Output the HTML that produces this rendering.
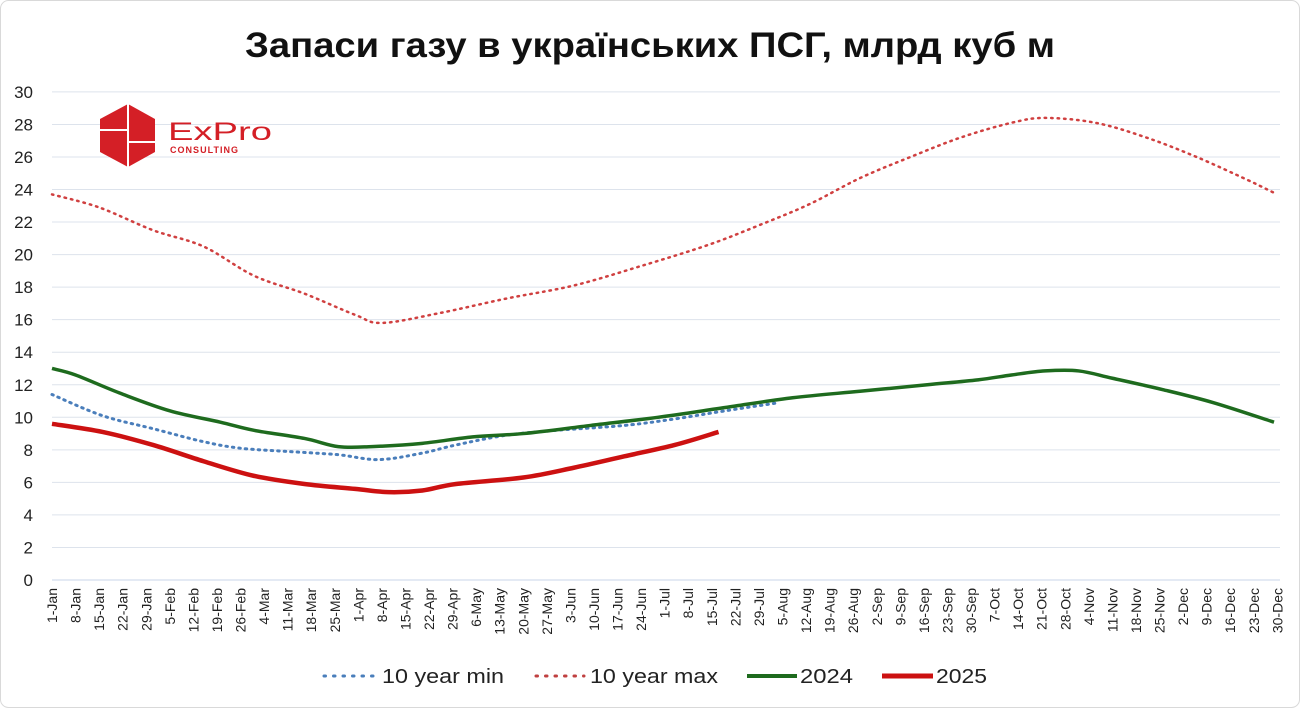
<!DOCTYPE html>
<html><head><meta charset="utf-8">
<style>
html,body{margin:0;padding:0;background:#fff;}
body{width:1300px;height:708px;overflow:hidden;font-family:"Liberation Sans","DejaVu Sans",sans-serif;}
</style></head>
<body>
<svg id="c" width="1300" height="708" xmlns="http://www.w3.org/2000/svg" font-family="'Liberation Sans','DejaVu Sans',sans-serif">
<rect x="0.5" y="0.5" width="1299" height="707" rx="8" fill="#fff" stroke="#d9d9d9"/>
<text x="650" y="57" text-anchor="middle" font-size="35" font-weight="bold" fill="#111" textLength="810" lengthAdjust="spacingAndGlyphs">Запаси газу в українських ПСГ, млрд куб м</text>
<g id="grid"></g>
<g id="series"></g>
<g>
<polygon points="128,104 155,119 155,152 128,167 100,152 100,119" fill="#d41f26"/>
<line x1="128" y1="104" x2="128" y2="167" stroke="#fff" stroke-width="2"/>
<line x1="100" y1="130" x2="128" y2="130" stroke="#fff" stroke-width="2"/>
<line x1="128" y1="142" x2="155" y2="142" stroke="#fff" stroke-width="2"/>
<text x="168" y="140" font-size="25" fill="#d41f26" textLength="104" lengthAdjust="spacingAndGlyphs">ExPro</text>
<text x="170" y="153" font-size="9" fill="#d41f26" font-weight="bold" textLength="68">CONSULTING</text>
</g>
<g font-size="20" fill="#222">
<line x1="324" y1="676" x2="374" y2="676" stroke="#4a7ebb" stroke-width="3" stroke-dasharray="1.5,8" stroke-linecap="round"/>
<text x="382" y="683" textLength="122" lengthAdjust="spacingAndGlyphs">10 year min</text>
<line x1="536" y1="676" x2="584" y2="676" stroke="#c04040" stroke-width="3" stroke-dasharray="1.5,8" stroke-linecap="round"/>
<text x="590" y="683" textLength="128" lengthAdjust="spacingAndGlyphs">10 year max</text>
<line x1="747" y1="676" x2="797" y2="676" stroke="#1e6b1e" stroke-width="4"/>
<text x="800" y="683" textLength="53" lengthAdjust="spacingAndGlyphs">2024</text>
<line x1="882" y1="676" x2="933" y2="676" stroke="#cc1111" stroke-width="5"/>
<text x="936" y="683" textLength="51" lengthAdjust="spacingAndGlyphs">2025</text>
</g>
</svg>
<script>
const NS="http://www.w3.org/2000/svg";
const X=d=>52+d*(1222/363), Y=v=>580-v*16.27;
const g=document.getElementById('grid'), s=document.getElementById('series');
function el(p,t,a,txt){const e=document.createElementNS(NS,t);for(const k in a)e.setAttribute(k,a[k]);if(txt!=null)e.textContent=txt;p.appendChild(e);return e;}
for(let v=0;v<=30;v+=2){const y=Y(v);
 el(g,'line',{x1:52,x2:1280,y1:y,y2:y,stroke:v==0?'#c8d4e8':'#dde3ec','stroke-width':1});
 el(g,'text',{x:33,y:y+6,'text-anchor':'end','font-size':17,fill:'#222'},String(v));}
const mon=['Jan','Feb','Mar','Apr','May','Jun','Jul','Aug','Sep','Oct','Nov','Dec'];
for(let w=0;w<=52;w++){const d=new Date(Date.UTC(2024,0,1+w*7));
 const x=X(w*7);const lab=d.getUTCDate()+'-'+mon[d.getUTCMonth()];
 el(g,'text',{x:0,y:0,'text-anchor':'end','font-size':14,fill:'#222',transform:`translate(${x+5},588) rotate(-90)`},lab);}
function path(pts){const P=pts.map(p=>[X(p[0]),Y(p[1])]);let d='M'+P[0];
 for(let i=0;i<P.length-1;i++){const p0=P[i-1]||P[i],p1=P[i],p2=P[i+1],p3=P[i+2]||p2;
  d+=` C${p1[0]+(p2[0]-p0[0])/6},${p1[1]+(p2[1]-p0[1])/6} ${p2[0]-(p3[0]-p1[0])/6},${p2[1]-(p3[1]-p1[1])/6} ${p2[0]},${p2[1]}`;}
 return d;}
const mx=[[0,23.7],[14,22.9],[30,21.5],[45,20.5],[60,18.7],[75,17.6],[90,16.3],[98,15.8],[115,16.4],[135,17.3],[155,18.1],[175,19.3],[195,20.6],[210,21.8],[225,23.1],[240,24.7],[255,26.0],[270,27.2],[285,28.1],[295,28.4],[310,28.1],[325,27.2],[340,26.0],[355,24.6],[363,23.8]];
const mn=[[0,11.4],[15,10.1],[30,9.3],[45,8.5],[56,8.1],[70,7.9],[85,7.7],[97,7.4],[110,7.8],[120,8.3],[135,8.9],[150,9.2],[170,9.5],[185,9.9],[200,10.4],[216,10.9]];
const y24=[[0,13.0],[7,12.6],[20,11.5],[35,10.4],[50,9.7],[60,9.2],[75,8.7],[85,8.2],[95,8.2],[110,8.4],[125,8.8],[140,9.0],[160,9.5],[180,10.0],[200,10.6],[220,11.2],[240,11.6],[260,12.0],[275,12.3],[285,12.6],[295,12.85],[305,12.85],[315,12.4],[330,11.7],[345,10.9],[363,9.7]];
const y25=[[0,9.6],[15,9.1],[30,8.3],[45,7.3],[60,6.4],[75,5.9],[90,5.6],[100,5.4],[110,5.5],[120,5.9],[140,6.3],[155,6.9],[170,7.6],[185,8.3],[198,9.1]];
el(s,'path',{d:path(mn),fill:'none',stroke:'#4a7ebb','stroke-width':3,'stroke-dasharray':'1.5,5','stroke-linecap':'round'});
el(s,'path',{d:path(mx),fill:'none',stroke:'#d04040','stroke-width':2.5,'stroke-dasharray':'1.5,5','stroke-linecap':'round'});
el(s,'path',{d:path(y24),fill:'none',stroke:'#1e6b1e','stroke-width':3.5});
el(s,'path',{d:path(y25),fill:'none',stroke:'#cc1111','stroke-width':4.5});
</script>
</body></html>
